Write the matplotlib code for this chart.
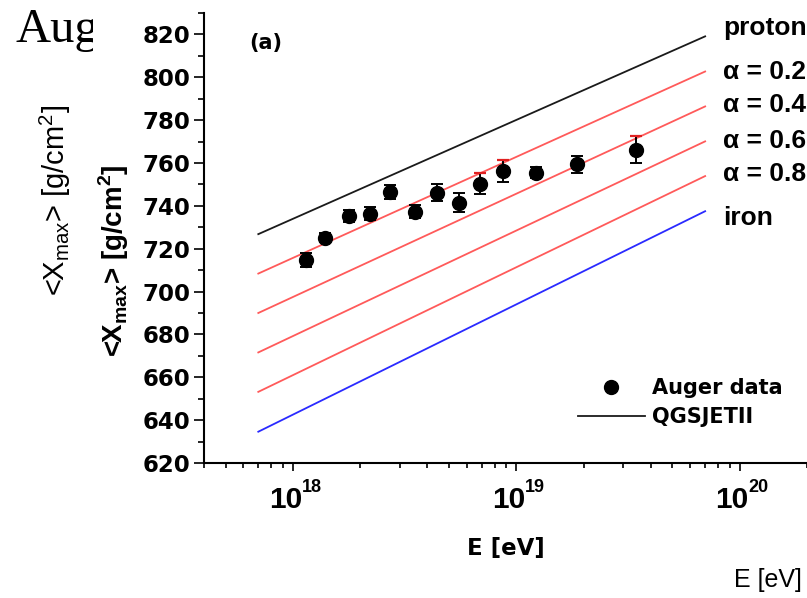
import matplotlib
matplotlib.use("Agg")
import matplotlib.pyplot as plt
from matplotlib.patches import Rectangle
from matplotlib.ticker import LogLocator, MultipleLocator, NullFormatter
import numpy as np

# Auger data points
energy = [1.14e18, 1.39e18, 1.78e18, 2.21e18, 2.72e18, 3.52e18, 4.40e18,
          5.55e18, 6.88e18, 8.75e18, 1.22e19, 1.86e19, 3.45e19]
xmax = [714.6, 725.2, 735.3, 736.4, 746.5, 737.2, 746.2,
        741.4, 750.4, 756.3, 755.5, 759.4, 766.2]
xmax_err = [3.3, 2.0, 3.0, 3.0, 3.3, 3.0, 4.0,
            4.5, 5.0, 5.0, 2.5, 4.0, 6.2]

# QGSJETII model lines: values at the two ends of the energy range
line_energy = [7e17, 7e19]
line_names = ["proton", "α = 0.2", "α = 0.4", "α = 0.6", "α = 0.8", "iron"]
line_start = [726.8, 708.4, 690.0, 671.6, 653.2, 634.6]
line_end = [819.1, 802.7, 786.4, 770.1, 753.9, 737.5]
label_y = [822.8, 802.3, 786.9, 770.1, 754.7, 734.2]
line_colors = ["#1a1a1a", "#ff5a5a", "#ff5a5a", "#ff5a5a", "#ff5a5a", "#2a2aff"]

# points whose upper cap shows in red
red_caps = [8, 9, 12]

plt.rcParams["font.family"] = ["DejaVu Sans"]
plt.rcParams["font.weight"] = "bold"

fig = plt.figure(figsize=(8.07, 5.98), dpi=100)
W, H = 807.0, 598.0
ax = fig.add_axes([204 / W, 1 - 463 / H, 1 - 204 / W, (463 - 13) / H])

handles = {}
for name, y0, y1, c in zip(line_names, line_start, line_end, line_colors):
    ln, = ax.plot(line_energy, [y0, y1], color=c, lw=1.3, zorder=2)
    if name == "proton":
        handles["QGSJETII"] = ln

for name, ly in zip(line_names, label_y):
    ax.text(8.4e19, ly, name, fontsize=19, fontweight="bold",
            family="Liberation Sans", ha="left", va="center", clip_on=False)

ax.errorbar(energy, xmax, yerr=xmax_err, fmt="none", ecolor="black",
            elinewidth=1.4, capsize=4, capthick=1.4, zorder=3)
pts, = ax.plot(energy, xmax, "o", color="black", ms=10, zorder=4)
handles["Auger data"] = pts
ax.plot([energy[i] for i in red_caps],
        [xmax[i] + xmax_err[i] for i in red_caps],
        "_", color="#e02020", ms=8, mew=1.6, zorder=5)

ax.set_xscale("log")
ax.set_xlim(4e17, 2e20)
ax.set_ylim(620, 830)

ax.xaxis.set_major_locator(LogLocator(base=10, numticks=10))
ax.xaxis.set_major_formatter(NullFormatter())
ax.xaxis.set_minor_locator(LogLocator(base=10, subs=range(2, 10), numticks=20))
ax.xaxis.set_minor_formatter(NullFormatter())
ax.set_yticks(range(620, 821, 20))
ax.yaxis.set_minor_locator(MultipleLocator(10))

# bold "10^n" tick labels, drawn as plain text pieces
lo, hi = ax.get_xlim()
for v in ax.get_xticks():
    if lo <= v <= hi:
        k = int(round(np.log10(v)))
        ax.annotate("10", xy=(v, 0), xycoords=("data", "axes fraction"),
                    xytext=(6.5, -32.5), textcoords="offset points",
                    ha="right", va="baseline", fontsize=21.5,
                    family="Liberation Sans", fontweight="bold")
        ax.annotate(str(k), xy=(v, 0), xycoords=("data", "axes fraction"),
                    xytext=(6.5, -21), textcoords="offset points",
                    ha="left", va="baseline", fontsize=13,
                    family="Liberation Sans", fontweight="bold")

for s in ["top", "right"]:
    ax.spines[s].set_visible(False)
for s in ["left", "bottom"]:
    ax.spines[s].set_linewidth(1.5)

ax.tick_params(axis="y", which="major", length=7.5, width=1.2, pad=2.5,
               labelsize=16.5)
ax.tick_params(axis="y", which="minor", length=4, width=1.2)
ax.tick_params(axis="x", which="major", length=6, width=1.2)
ax.tick_params(axis="x", which="minor", length=3.5, width=1.2)

ax.set_xlabel("E [eV]", fontsize=16.5, fontweight="bold", labelpad=44)
fig.text(114 / W, 1 - 261 / H, r"<X$_{\mathregular{max}}$> [g/cm$^{\mathregular{2}}$]",
         rotation=90, ha="center", va="center", fontsize=20,
         family="Liberation Sans", fontweight="bold")
fig.text(249 / W, 1 - 43 / H, "(a)", fontsize=15, fontweight="bold",
         ha="left", va="center")

ax.legend([handles["Auger data"], handles["QGSJETII"]], ["Auger data", "QGSJETII"],
          loc="upper left", bbox_to_anchor=(578 / W, 1 - 378 / H),
          bbox_transform=fig.transFigure, frameon=False,
          handlelength=3.2, handletextpad=0.35, labelspacing=0.45,
          borderpad=0, borderaxespad=0, numpoints=1,
          prop={"family": "DejaVu Sans", "weight": "bold", "size": 15})

# pieces of the slide underneath the chart
t = fig.text(15 / W, 1 - 42 / H, "Auger", fontsize=35, family="Liberation Serif",
             fontweight="normal", ha="left", va="baseline")
t.set_clip_path(Rectangle((0, 0), 93 / W, 1, transform=fig.transFigure))
fig.text(55 / W, 1 - 200 / H, r"<X$_{\mathregular{max}}$> [g/cm$^{\mathregular{2}}$]",
         rotation=90, ha="center", va="center", fontsize=21,
         family="Liberation Sans", fontweight="normal")
fig.text(768 / W, 1 - 580 / H, "E [eV]", fontsize=18, family="Liberation Sans",
         fontweight="normal", ha="center", va="center")

fig.savefig("out.png", dpi=100)
